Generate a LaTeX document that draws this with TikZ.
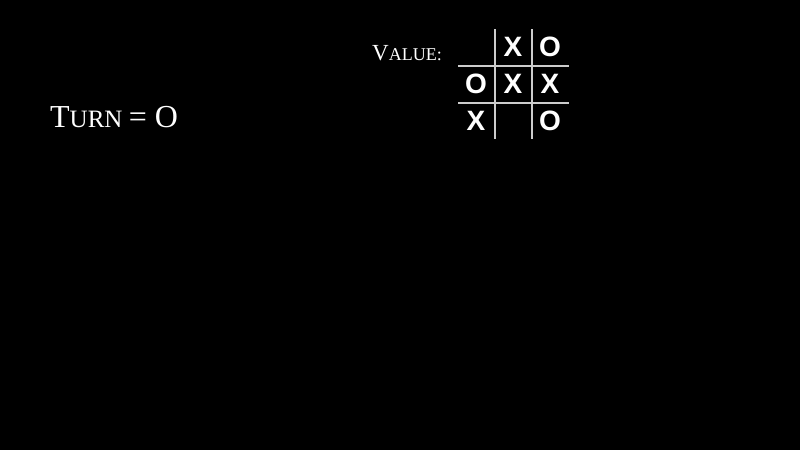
\documentclass[tikz,border=0pt]{standalone}
\usepackage{fontspec}
\setmainfont{Liberation Serif}
\newfontfamily\markfont{Liberation Sans}
\definecolor{gridgray}{gray}{0.8}
\begin{document}
\begin{tikzpicture}[x=1pt, y=-1pt,
    cellmark/.style={text=white, font=\markfont\bfseries\fontsize{28}{28}\selectfont, inner sep=0pt},
    gridline/.style={draw=gridgray, line width=1.6pt}]
      \fill[black] (0,0) rectangle (800,450);
      \node[anchor=base west, text=white, inner sep=0pt] (turn) at (50,127)
        {\fontsize{32}{32}\selectfont T\fontsize{25}{25}\selectfont URN \fontsize{32}{32}\selectfont = O};
      \node[anchor=base west, text=white, inner sep=0pt] (value) at (372,60)
        {\fontsize{23}{23}\selectfont V\fontsize{18}{18}\selectfont ALUE:};

      \draw[gridline] (495,29) -- (495,139);
      \draw[gridline] (532,29) -- (532,139);
      \draw[gridline] (458,66) -- (569,66);
      \draw[gridline] (458,103) -- (569,103);

      \node[cellmark] (c12) at (513,47) {X};
      \node[cellmark] (c13) at (550,47) {O};
      \node[cellmark] (c21) at (476,84) {O};
      \node[cellmark] (c22) at (513,84) {X};
      \node[cellmark] (c23) at (550,84) {X};
      \node[cellmark] (c31) at (476,121) {X};
      \node[cellmark] (c33) at (550,121) {O};
    \end{tikzpicture}
\end{document}
